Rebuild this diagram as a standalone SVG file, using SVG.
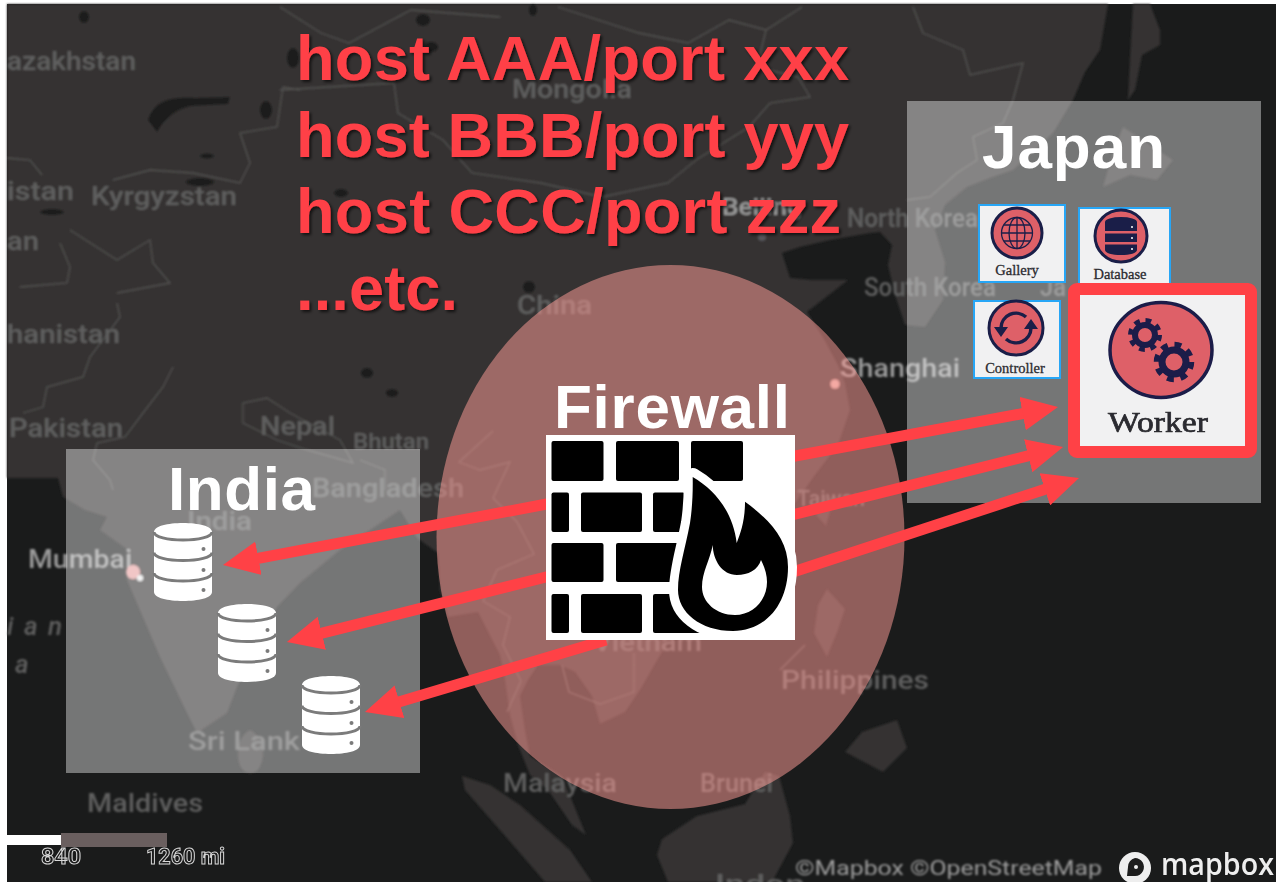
<svg xmlns="http://www.w3.org/2000/svg" width="1276" height="882" viewBox="0 0 1276 882">
<style>
.ml{font-family:"Roboto","Liberation Sans",sans-serif;font-weight:500;font-size:26px;fill:#5f5f5e}
.ll{fill:#9a9a9a}
.b{fill:none;stroke:#525150;stroke-width:1.3}
.lake{fill:#1c1c1c}
.land{fill:#343332}
.red{font-family:"Liberation Sans",Arial,sans-serif;font-weight:700;font-size:63px;fill:#ff4146}
.wh{font-family:"Liberation Sans",Arial,sans-serif;font-weight:700;font-size:62px;fill:#fff}
.box{fill:#fff;fill-opacity:.4}
.tile{fill:#f1f1f2;stroke:#27a6f6;stroke-width:2}
.disc{fill:#de6068;stroke:#1a1e48;stroke-width:3}
.cap{font-family:"Liberation Serif",serif;font-size:14.500px;stroke:#2b2b30;stroke-width:.3;fill:#2b2b30;text-anchor:middle}
.navy{fill:none;stroke:#1a1e48}
.arrow{fill:none;stroke:#ff4146;stroke-width:11}
.brick{fill:#000}
.sc{font-family:"Roboto","Liberation Sans",sans-serif;font-weight:700;font-size:22px;fill:#1a1b1b;stroke:#d8d8d8;stroke-width:1}
</style>
<defs>
<filter id="soft" x="-2%" y="-2%" width="104%" height="104%"><feGaussianBlur stdDeviation="0.9"/></filter>
<filter id="soft2" x="-5%" y="-5%" width="110%" height="110%"><feGaussianBlur stdDeviation="0.5"/></filter>
<filter id="shadow" x="-5%" y="-10%" width="110%" height="125%"><feDropShadow dx="2" dy="2" stdDeviation="1.5" flood-color="#000" flood-opacity=".65"/></filter>
<marker id="head" markerUnits="userSpaceOnUse" markerWidth="36" markerHeight="34" refX="6" refY="17" orient="auto"><path d="M0,0L36,17L0,34Z" fill="#ff4146"/></marker>
<g id="cyl">
<path d="M0,9C0,3 14,0 29,0C44,0 58,3 58,9V69C58,75 44,78 29,78C14,78 0,75 0,69Z" fill="#fff"/>
<path d="M0,9C0,14 14,17 29,17C44,17 58,14 58,9M0,29.500C0,34.500 14,37.500 29,37.500C44,37.500 58,34.500 58,29.500M0,50C0,55 14,58 29,58C44,58 58,55 58,50" fill="none" stroke="#7b7b7b" stroke-width="3"/>
<circle cx="49.500" cy="26" r="2" fill="#7b7b7b"/><circle cx="49.500" cy="47" r="2" fill="#7b7b7b"/><circle cx="49.500" cy="67" r="2" fill="#7b7b7b"/>
</g>
</defs>
<rect width="1276" height="882" fill="#fff"/>
<g id="map">
<rect x="7" y="4" width="1269" height="878" fill="#1a1b1b"/>
<g filter="url(#soft)">
<path class="land" d="M7,4H1108L1100,50L1085,72L1073,100L1053,133L1035,150L1013,170L990,178L967,187L945,205L935,230L945,262L943,300L925,327L905,325L895,295L888,265L892,245L880,232L870,233L830,240L800,247L782,253L790,278L812,280L848,280L825,298L807,312L824,339L838,365L845,383L850,410L838,445L815,475L790,510L760,535L725,560L700,575L690,600L680,625L659,657L640,690L625,712L600,724L592,696L575,672L560,665L538,665L528,680L520,696L525,730L530,756L562,776L586,835L572,825L548,790L530,775L518,745L510,715L505,680L500,655L478,612L448,617L440,590L438,553L417,538L400,510L370,530L340,550L300,583L277,607L255,650L237,687L227,713L197,733L187,713L160,657L127,580L128,550L100,530L107,517L85,510L63,497L58,478H7Z"/>
<path class="land" d="M250,730C262,735 268,755 258,770C248,778 238,770 238,755C238,742 243,733 250,730Z"/>
<path class="land" d="M462,776L490,785L520,805L570,850L592,882H545L500,830L465,790Z"/>
<path class="land" d="M662,839L697,816L745,804L765,772L779,776L790,816L793,843L772,882H668L657,855Z"/>
<path class="land" d="M827,589L845,609L838,630L827,657L814,633L818,605Z"/>
<path class="land" d="M897,720L907,748L883,772L845,752L862,732Z"/>
<path class="land" d="M824,494L832,505L826,526L816,515Z"/>
<path class="land" d="M1133,4H1150L1160,30L1160,45L1142,55L1135,90L1128,100L1130,60Z"/>
<path class="land" d="M1123,127L1173,160L1157,180L1130,175L1103,187L1112,155Z"/>
<g class="lake">
<path d="M148,120C155,100 170,97 195,98L230,97L228,104L190,106C175,110 165,118 157,132Z"/>
<ellipse cx="266" cy="110" rx="6" ry="9"/><ellipse cx="207" cy="156" rx="7" ry="2.500"/><ellipse cx="200" cy="182" rx="14" ry="4"/><ellipse cx="52" cy="212" rx="12" ry="3"/><ellipse cx="84" cy="17" rx="5" ry="6"/><ellipse cx="293" cy="58" rx="6" ry="10"/><ellipse cx="367" cy="373" rx="6" ry="5"/><ellipse cx="392" cy="393" rx="6" ry="4"/><ellipse cx="423" cy="20" rx="7" ry="6"/><ellipse cx="431" cy="47" rx="7" ry="5"/><ellipse cx="341" cy="193" rx="7" ry="4"/><ellipse cx="529" cy="287" rx="6" ry="6"/><ellipse cx="533" cy="10" rx="4" ry="6"/>
</g>
<path class="b" d="M280,7L321,33L349,43L411,10L500,17M558,7L639,33L688,43L729,20L766,30L802,7M280,90L394,83L398,113L443,140L472,173L541,183L602,197L668,183L696,160L749,127L770,103L810,97L798,77L757,67L766,30"/>
<path class="b" d="M913,7L923,33L963,50L970,75L1023,63L1013,100L1003,123L973,137L977,160L957,173L930,197L907,200"/>
<path class="b" d="M7,158L30,160L42,175M113,180L150,170L193,173L240,183L250,163L240,133L277,127L283,87L300,90M60,243L70,267L67,283L20,287M70,230L117,260L150,240L153,263L170,283L117,293"/>
<path class="b" d="M117,303L120,317L90,357L83,377L47,387L43,407L23,413M173,367L163,387L143,413L125,437L97,443L93,460L110,480L113,490M243,403L243,423L277,440L307,450L353,463L340,440L290,413L267,398ZM360,460L385,470L385,490"/>
<path class="b" d="M493,431L459,462L480,470L510,462L493,498L517,522L534,554L497,570L483,601L510,617L503,645L521,681L507,712M562,665L569,692L600,704L634,692L634,653M780,670L805,645"/>
<g lengthAdjust="spacingAndGlyphs">
<text class="ml" lengthAdjust="spacingAndGlyphs" x="7" y="70" textLength="129">azakhstan</text>
<text class="ml" lengthAdjust="spacingAndGlyphs" x="7" y="200" textLength="67">istan</text>
<text class="ml" lengthAdjust="spacingAndGlyphs" x="91" y="205" textLength="146">Kyrgyzstan</text>
<text class="ml" lengthAdjust="spacingAndGlyphs" x="7" y="250" textLength="32">an</text>
<text class="ml" lengthAdjust="spacingAndGlyphs" x="7" y="343" textLength="113">hanistan</text>
<text class="ml" lengthAdjust="spacingAndGlyphs" x="9" y="437" textLength="114">Pakistan</text>
<text class="ml" lengthAdjust="spacingAndGlyphs" x="260" y="435" textLength="75">Nepal</text>
<text class="ml" lengthAdjust="spacingAndGlyphs" x="353" y="449" style="font-size:22px" textLength="76">Bhutan</text>
<text class="ml" lengthAdjust="spacingAndGlyphs" x="312" y="497" textLength="152">Bangladesh</text>
<text class="ml" lengthAdjust="spacingAndGlyphs" x="187" y="530" textLength="65">India</text>
<text class="ml ll" lengthAdjust="spacingAndGlyphs" x="28" y="568" textLength="104">Mumbai</text>
<text class="ml" lengthAdjust="spacingAndGlyphs" x="188" y="750" textLength="112">Sri Lank</text>
<text class="ml" lengthAdjust="spacingAndGlyphs" x="87" y="812" textLength="116">Maldives</text>
<text class="ml" x="7" y="635" font-style="italic" textLength="55">ian</text>
<text class="ml" x="15" y="673" font-style="italic" textLength="12">a</text>
<text class="ml" lengthAdjust="spacingAndGlyphs" x="512" y="98" textLength="120">Mongolia</text>
<text class="ml ll" lengthAdjust="spacingAndGlyphs" x="722" y="215" style="font-size:23px" textLength="80">Beijing</text>
<text class="ml" lengthAdjust="spacingAndGlyphs" x="847" y="227" textLength="131">North Korea</text>
<text class="ml" lengthAdjust="spacingAndGlyphs" x="864" y="296" textLength="132">South Korea</text>
<text class="ml" lengthAdjust="spacingAndGlyphs" x="1040" y="296" textLength="26">Ja</text>
<text class="ml" lengthAdjust="spacingAndGlyphs" x="517" y="314" textLength="75">China</text>
<text class="ml ll" lengthAdjust="spacingAndGlyphs" x="840" y="377" textLength="120">Shanghai</text>
<text class="ml" lengthAdjust="spacingAndGlyphs" x="797" y="506" style="font-size:22px" textLength="68">Taiwan</text>
<text class="ml" lengthAdjust="spacingAndGlyphs" x="593" y="651" textLength="109">Vietnam</text>
<text class="ml" lengthAdjust="spacingAndGlyphs" x="781" y="689" textLength="148">Philippines</text>
<text class="ml" lengthAdjust="spacingAndGlyphs" x="503" y="792" textLength="114">Malaysia</text>
<text class="ml" lengthAdjust="spacingAndGlyphs" x="700" y="792" textLength="73">Brunei</text>
<text class="ml" lengthAdjust="spacingAndGlyphs" x="715" y="893" textLength="90">Indon</text>
</g>
<circle cx="835" cy="384" r="4.500" fill="#e8b6b0"/>
<circle cx="133" cy="572" r="7" fill="#e8a0a0"/><circle cx="140" cy="578" r="3" fill="#eee"/>
<circle cx="762" cy="237" r="4" fill="#55555a"/>
<text x="795" y="875" font-family="Roboto,'Liberation Sans',sans-serif" font-size="20" fill="#9c9c9c" lengthAdjust="spacingAndGlyphs" textLength="307">©Mapbox ©OpenStreetMap</text>
</g>
<g filter="url(#soft2)">
<rect x="7" y="835" width="54" height="10" fill="#fff"/>
<rect x="61" y="833" width="106" height="14" fill="#6b5f5f"/>
<text class="sc" lengthAdjust="spacingAndGlyphs" x="41" y="864" textLength="40">840</text>
<text class="sc" lengthAdjust="spacingAndGlyphs" x="146" y="864" textLength="79">1260 mi</text>
<circle cx="1135" cy="868" r="16" fill="#eee"/>
<path d="M1135,858a9,9 0 0 1 8,13a9,9 0 0 1 -8,5h-8l1,-9a9,9 0 0 1 7,-9Z" fill="#1a1b1b"/>
<circle cx="1136" cy="867" r="2" fill="#eee"/>
<text x="1161" y="875" font-family="'Open Sans','Liberation Sans',sans-serif" font-weight="600" font-size="31" fill="#eee" lengthAdjust="spacingAndGlyphs" textLength="113">mapbox</text>
</g>
</g>
<g id="host-list" filter="url(#shadow)">
<text class="red" x="296" y="80" textLength="553">host AAA/port xxx</text>
<text class="red" x="296" y="157" textLength="553">host BBB/port yyy</text>
<text class="red" x="296" y="233" textLength="545">host CCC/port zzz</text>
<text class="red" x="296" y="310" textLength="162">...etc.</text>
</g>
<g id="japan-region">
<rect class="box" x="907" y="101" width="354" height="402"/>
<text class="wh" x="982" y="168" textLength="183">Japan</text>
</g>
<g id="india-region">
<rect class="box" x="66" y="449" width="354" height="324"/>
<text class="wh" x="168" y="510" textLength="147">India</text>
</g>
<g id="firewall-zone">
<ellipse cx="670.500" cy="537" rx="234" ry="272" fill="#ff9d96" fill-opacity=".517"/>
</g>
<g id="connectors">
<path class="arrow" marker-end="url(#head)" d="M790,457L1028.500,412.500"/>
<path class="arrow" marker-end="url(#head)" d="M790,515.500L1034,454.300"/>
<path class="arrow" marker-end="url(#head)" d="M790,573L1050.500,487.400"/>
<path class="arrow" marker-end="url(#head)" d="M552,503L252.500,559.400"/>
<path class="arrow" marker-end="url(#head)" d="M552,575.500L316,634.700"/>
<path class="arrow" marker-end="url(#head)" d="M606,640L393.700,703.400"/>
</g>
<g id="firewall">
<text class="wh" x="554" y="428" textLength="236">Firewall</text>
<rect x="546" y="435" width="249" height="205" fill="#fff"/>
<g class="brick">
<rect x="551.500" y="441" width="52" height="40" rx="2"/><rect x="616" y="441" width="63" height="40" rx="2"/><rect x="691" y="441" width="52" height="40" rx="2"/>
<rect x="551.500" y="492.500" width="17.500" height="39.500" rx="2"/><rect x="581" y="492.500" width="61" height="39.500" rx="2"/><rect x="653" y="492.500" width="32" height="39.500" rx="2"/>
<rect x="551.500" y="543" width="52" height="39" rx="2"/><rect x="616" y="543" width="66" height="39" rx="2"/>
<rect x="551.500" y="594" width="17.500" height="39" rx="2"/><rect x="581" y="594" width="61" height="39" rx="2"/><rect x="653" y="594" width="50" height="39" rx="2"/>
</g>
<path d="M692.700,477C715,490 733,512 736.700,543C741,532 745,520 745,501.700C770,520 788,540 788,567C788,605 765,631 733,631C700,631 678,612 678,590C678,570 685,550 690,523C692,510 693,495 692.700,477Z" fill="#000" stroke="#fff" stroke-width="18" paint-order="stroke" stroke-linejoin="round"/>
<path d="M712.700,545C713,560 722,575 737,575C748,575 758,570 761,560C765,568 767,575 767,582C767,600 753,615 735,615C716,615 702,602 702,587C702,572 710,560 712.700,545Z" fill="#fff"/>
</g>
<use id="db-1" href="#cyl" x="154" y="523"/>
<use id="db-2" href="#cyl" x="218" y="604"/>
<use id="db-3" href="#cyl" x="302" y="676"/>
<g id="gallery">
<rect class="tile" x="979" y="205" width="86" height="77"/>
<circle class="disc" cx="1017" cy="233" r="25"/>
<g class="navy" stroke-width="1.300"><circle cx="1017" cy="233" r="15.500"/><ellipse cx="1017" cy="233" rx="8" ry="15.500"/><path d="M1017,217.500V248.500M1001.500,233H1032.500M1004,225H1030M1004,241H1030"/></g>
<text class="cap" x="1017" y="275">Gallery</text>
</g>
<g id="database">
<rect class="tile" x="1079" y="208" width="91" height="76"/>
<circle class="disc" cx="1121" cy="236" r="26"/>
<g fill="#1a1e48"><ellipse cx="1121" cy="222" rx="16" ry="5"/><rect x="1105" y="222" width="32" height="9"/><path d="M1105,233.500H1137V242H1105Z"/><path d="M1105,244.500H1137V250C1137,253 1130,255 1121,255C1112,255 1105,253 1105,250Z"/></g>
<circle cx="1132" cy="227" r="1" fill="#fff"/><circle cx="1132" cy="238" r="1" fill="#fff"/><circle cx="1132" cy="249" r="1" fill="#fff"/>
<text class="cap" x="1120" y="279">Database</text>
</g>
<g id="controller">
<rect class="tile" x="974" y="301" width="86" height="77"/>
<circle class="disc" cx="1016" cy="328" r="27"/>
<g class="navy" stroke-width="3.500"><path d="M1001,328A15,15 0 0 1 1026,317"/><path d="M1031,328A15,15 0 0 1 1006,339"/></g>
<path d="M994,327H1008L1001,337ZM1024,329H1038L1031,319Z" fill="#1a1e48"/>
<text class="cap" x="1015" y="373">Controller</text>
</g>
<g id="worker">
<rect x="1074" y="289" width="177" height="163" rx="3" fill="#f1f1f2" stroke="#ff4146" stroke-width="12"/>
<g filter="url(#soft2)">
<ellipse cx="1161" cy="350" rx="51" ry="47.500" fill="#de6068" stroke="#1a1e48" stroke-width="3.500"/>
<g class="navy"><circle cx="1145" cy="335" r="10" stroke-width="6"/><circle cx="1145" cy="335" r="14.500" stroke-width="5" stroke-dasharray="5.700 5.700"/><circle cx="1174" cy="362" r="12" stroke-width="7"/><circle cx="1174" cy="362" r="17.500" stroke-width="5.500" stroke-dasharray="6.870 6.870"/></g>
<text x="1158" y="432" font-family="'Liberation Serif',serif" font-size="29" stroke="#2b2b30" stroke-width=".7" fill="#2b2b30" text-anchor="middle" lengthAdjust="spacingAndGlyphs" textLength="100">Worker</text>
</g>
</g>
</svg>
